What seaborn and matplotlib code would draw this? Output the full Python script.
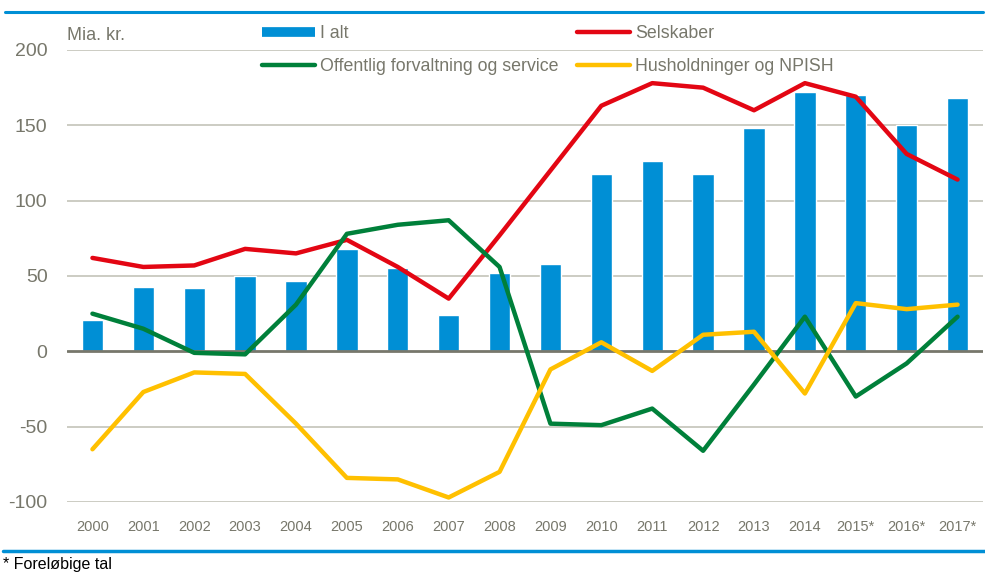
import numpy as np
import pandas as pd
import seaborn as sns
import matplotlib.pyplot as plt
from matplotlib.lines import Line2D

# Data (mia. kr.)
aar = ['2000', '2001', '2002', '2003', '2004', '2005', '2006', '2007', '2008',
       '2009', '2010', '2011', '2012', '2013', '2014', '2015*', '2016*', '2017*']
i_alt = [21, 43, 42, 50, 47, 68, 55, 24, 52, 58, 118, 126, 118, 148, 172, 170, 150, 168]
selskaber = [62, 56, 57, 68, 65, 74, 56, 35, 77, 120, 163, 178, 175, 160, 178, 169, 131, 114]
offentlig = [25, 15, -1, -2, 31, 78, 84, 87, 56, -48, -49, -38, -66, -22, 23, -30, -8, 23]
husholdninger = [-65, -27, -14, -15, -48, -84, -85, -97, -80, -12, 6, -13, 11, 13, -28, 32, 28, 31]

df = pd.DataFrame({'aar': aar, 'pos': np.arange(len(aar)), 'I alt': i_alt,
                   'Selskaber': selskaber,
                   'Offentlig forvaltning og service': offentlig,
                   'Husholdninger og NPISH': husholdninger})

blaa = '#008fd5'
roed = '#e30613'
groen = '#00803a'
gul = '#ffc000'
graa_tekst = '#77776b'

sns.set_style('white')
plt.rcParams['font.family'] = ['Liberation Sans', 'DejaVu Sans']

fig = plt.figure(figsize=(9.85, 5.74), dpi=100, facecolor='white')
ax = fig.add_axes([67 / 985, 1 - 502 / 574, 916 / 985, 452 / 574])

# Gridlinjer
for v in [200, 150, 100, 50, -50, -100]:
    ax.axhline(v, color='#c8c8be', lw=1.3, zorder=0)

sns.barplot(data=df, x='aar', y='I alt', color=blaa, width=0.42, saturation=1,
            edgecolor='white', linewidth=1, ax=ax, zorder=2)
ax.axhline(0, color='#77776b', lw=2, zorder=3)

for kol, farve in [('Selskaber', roed), ('Offentlig forvaltning og service', groen),
                   ('Husholdninger og NPISH', gul)]:
    sns.lineplot(data=df, x='pos', y=kol, color=farve, lw=3.2, sort=False,
                 ax=ax, zorder=4, legend=False)

ax.set_xlim(-0.5, len(aar) - 0.5)
ax.set_ylim(-100, 200)
ax.set_yticks([-100, -50, 0, 50, 100, 150, 200])
ax.set_yticklabels(['-100', '-50', '0', '50', '100', '150', '200'])
ax.set_xticks(range(len(aar)))
ax.set_xticklabels(aar)
ax.set_xlabel('')
ax.set_ylabel('')
ax.tick_params(axis='y', length=0, pad=14, labelsize=14, labelcolor=graa_tekst)
ax.tick_params(axis='x', length=0, pad=13, labelsize=10.5, labelcolor=graa_tekst)
for s in ax.spines.values():
    s.set_visible(False)

fig.text(67 / 985, 1 - 36 / 574, 'Mia. kr.', fontsize=13, color=graa_tekst, va='center', ha='left')

handles = [Line2D([], [], color=blaa, lw=7, solid_capstyle='butt'),
           Line2D([], [], color=groen, lw=3.2, solid_capstyle='round'),
           Line2D([], [], color=roed, lw=3.2, solid_capstyle='round'),
           Line2D([], [], color=gul, lw=3.2, solid_capstyle='round')]
labels = ['I alt', 'Offentlig forvaltning og service', 'Selskaber', 'Husholdninger og NPISH']
leg = fig.legend(handles, labels, loc='upper left', bbox_to_anchor=(262 / 985, 1 - 25 / 574),
                 ncol=2, frameon=False, fontsize=12.8, handlelength=3.0, handletextpad=0.25,
                 columnspacing=1.05, labelspacing=0.92, borderaxespad=0, borderpad=0)
for t in leg.get_texts():
    t.set_color(graa_tekst)

# Blå rammelinjer
fig.add_artist(Line2D([5 / 985, 983 / 985], [1 - 12 / 574, 1 - 12 / 574], color=blaa, lw=2.2))
fig.add_artist(Line2D([3 / 985, 1.0], [1 - 551 / 574, 1 - 551 / 574], color=blaa, lw=2.5))
fig.text(3 / 985, 1 - 564 / 574, '* Foreløbige tal', fontsize=11.5, color='black', va='center', ha='left')

fig.savefig('out.png', dpi=100, facecolor='white')
